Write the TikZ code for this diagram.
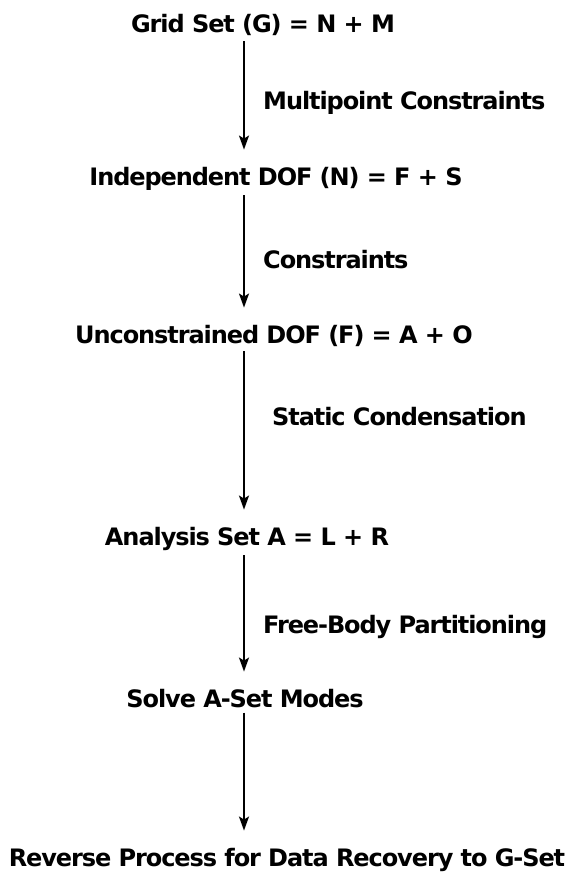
\documentclass[tikz,border=0pt]{standalone}
\usepackage{fontspec}
\setmainfont{DejaVu Sans}
\newfontfamily\flowfont[LetterSpace=-4.5]{DejaVu Sans}
\usetikzlibrary{arrows.meta}

\begin{document}
\begin{tikzpicture}[>={Stealth[length=14pt, width=10pt, inset=3pt]}, x=1pt, y=-1pt, font=\flowfont\bfseries\fontsize{24}{28}\selectfont]

\tikzset{
  setnode/.style={anchor=base, inner xsep=0pt, inner ysep=5pt},
  opnode/.style={anchor=base west, inner sep=0pt},
  flow/.style={->, line width=1.8pt, shorten >=12pt}
}

\useasboundingbox (0,0) rectangle (573,872);

%\draw[step=50, gray!30] (0,0) grid (573,872);

\coordinate (spine) at (244,0);

\node[setnode] (grid) at (263,33) {Grid Set (G) = N + M};
\node[setnode] (indep) at (276,185) {Independent DOF (N) = F + S};
\node[setnode] (uncon) at (274,343) {Unconstrained DOF (F) = A + O};
\node[setnode] (aset) at (247,545) {Analysis Set A = L + R};
\node[setnode] (solve) at (245,707) {Solve A-Set Modes};
\node[setnode] (rev) at (287,866) {Reverse Process for Data Recovery to G-Set};

\draw[flow] (grid.south -| spine) -- (indep.north -| spine);
\draw[flow] (indep.south -| spine) -- (uncon.north -| spine);
\draw[flow] (uncon.south -| spine) -- (aset.north -| spine);
\draw[flow] (aset.south -| spine) -- (solve.north -| spine);
\draw[flow] (solve.south -| spine) -- (rev.north -| spine);

\node[opnode] (mpc) at (263,110) {Multipoint Constraints};
\node[opnode] (spc) at (263,268) {Constraints};
\node[opnode] (omit) at (272,425) {Static Condensation};
\node[opnode] (supp) at (263,633) {Free-Body Partitioning};

\end{tikzpicture}
\end{document}
